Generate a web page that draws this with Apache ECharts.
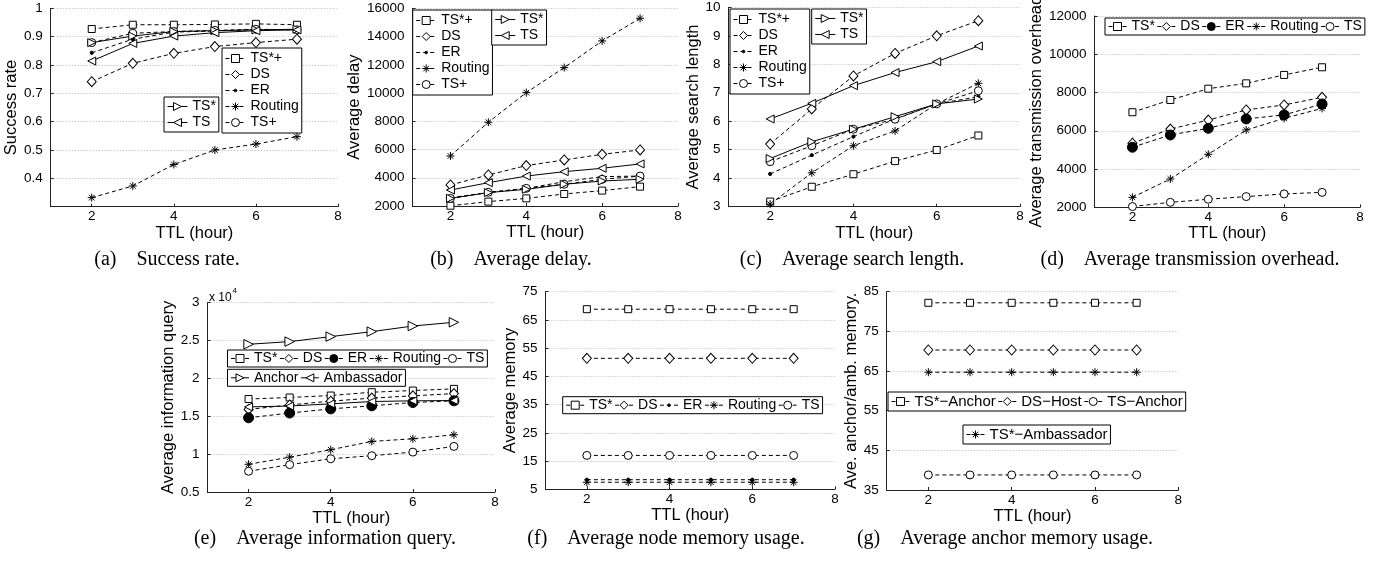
<!DOCTYPE html>
<html><head><meta charset="utf-8">
<script src="https://cdn.jsdelivr.net/npm/echarts@6/dist/echarts.min.js"></script>
<style>html,body{margin:0;padding:0;background:#fff}#c{width:1385px;height:562px}</style>
</head><body><div id="c"></div>
<script>
// ---------- data ----------
const ttl = [2, 3, 4, 5, 6, 7];
const xTickValues = [2, 4, 6, 8];

// (a) Success rate
const aTSstarPlus = [0.927, 0.942, 0.942, 0.943, 0.945, 0.942];
const aDS         = [0.741, 0.806, 0.841, 0.865, 0.879, 0.891];
const aER         = [0.843, 0.891, 0.916, 0.920, 0.925, 0.925];
const aRouting    = [0.332, 0.373, 0.449, 0.500, 0.521, 0.547];
const aTSplus     = [0.879, 0.912, 0.918, 0.922, 0.926, 0.924];
const aTSstar     = [0.879, 0.902, 0.918, 0.921, 0.924, 0.926];
const aTS         = [0.814, 0.876, 0.902, 0.914, 0.921, 0.924];

// (b) Average delay
const bTSstarPlus = [2020, 2310, 2540, 2850, 3090, 3370];
const bDS         = [3490, 4200, 4860, 5260, 5660, 5970];
const bER         = [2590, 2950, 3250, 3720, 4080, 4120];
const bRouting    = [5540, 7930, 10030, 11800, 13690, 15290];
const bTSplus     = [2540, 2970, 3250, 3540, 3890, 4120];
const bTSstar     = [2540, 2950, 3180, 3540, 3770, 3890];
const bTS         = [3130, 3650, 4120, 4430, 4670, 4980];

// (c) Average search length
const cTSstarPlus = [3.18, 3.70, 4.14, 4.60, 4.99, 5.50];
const cDS         = [5.20, 6.43, 7.59, 8.38, 9.00, 9.53];
const cER         = [4.15, 4.81, 5.46, 6.08, 6.61, 6.86];
const cRouting    = [3.09, 4.19, 5.14, 5.66, 6.61, 7.33];
const cTSplus     = [4.58, 5.14, 5.72, 6.07, 6.61, 7.07];
const cTSstar     = [4.69, 5.28, 5.72, 6.16, 6.61, 6.78];
const cTS         = [6.08, 6.63, 7.25, 7.71, 8.09, 8.64];

// (d) Average transmission overhead
const dTSstar  = [6970, 7610, 8200, 8480, 8920, 9320];
const dDS      = [5350, 6090, 6560, 7090, 7350, 7750];
const dER      = [5140, 5780, 6130, 6620, 6830, 7400];
const dRouting = [2520, 3480, 4770, 6040, 6650, 7170];
const dTS      = [2040, 2260, 2420, 2560, 2700, 2780];

// (e) Average information query
const eTSstar     = [17280, 17480, 17740, 18180, 18400, 18620];
const eDS         = [15900, 16500, 17000, 17400, 17700, 18000];
const eER         = [14800, 15430, 15980, 16380, 16820, 17040];
const eRouting    = [8660, 9600, 10580, 11680, 12030, 12560];
const eTS         = [7740, 8610, 9390, 9790, 10270, 11020];
const eAnchor     = [24510, 24860, 25520, 26180, 26920, 27410];
const eAmbassador = [16240, 16350, 16640, 16950, 17040, 17080];

// (f) Average node memory usage
const fTSstar  = [68.8, 68.8, 68.8, 68.8, 68.8, 68.8];
const fDS      = [51.4, 51.4, 51.4, 51.4, 51.4, 51.4];
const fER      = [8.4, 8.4, 8.4, 8.4, 8.4, 8.4];
const fRouting = [7.5, 7.5, 7.5, 7.5, 7.5, 7.5];
const fTS      = [17.0, 17.0, 17.0, 17.0, 17.0, 17.0];

// (g) Average anchor memory usage
const gTSstarAnchor     = [82.2, 82.2, 82.2, 82.2, 82.2, 82.2];
const gDSHost           = [70.3, 70.3, 70.3, 70.3, 70.3, 70.3];
const gTSstarAmbassador = [64.7, 64.7, 64.7, 64.7, 64.7, 64.7];
const gTSAnchor         = [38.8, 38.8, 38.8, 38.8, 38.8, 38.8];

// ---------- styling ----------
const SANS = '"Liberation Sans", Arial, sans-serif';
const SERIF = '"Liberation Serif", "Times New Roman", serif';
const AST = 'path://M5,0L5,10M0,5L10,5M1.5,1.5L8.5,8.5M1.5,8.5L8.5,1.5';
const DOT = 'path://M0,0L0,0M10,10L10,10M6.6,5A1.6,1.6,0,1,1,3.4,5A1.6,1.6,0,1,1,6.6,5Z';
const MK = {
  sq:   {symbol: 'rect', size: 7, fill: '#fff'},
  dia:  {symbol: 'diamond', size: [9, 10], fill: '#fff'},
  dot:  {symbol: DOT, size: 10, fill: '#000'},
  bdot: {symbol: 'circle', size: 10, fill: '#000'},
  circ: {symbol: 'circle', size: 8, fill: '#fff'},
  ast:  {symbol: AST, size: 8, fill: '#000'},
  rtri: {symbol: 'triangle', size: 8, rotate: -90, fill: '#fff'},
  ltri: {symbol: 'triangle', size: 8, rotate: 90, fill: '#fff'}
};

const grids = [
  {left: 50.7, top: 8.3, width: 287.3, height: 198.4},
  {left: 412.5, top: 8.3, width: 265.5, height: 197.7},
  {left: 728.5, top: 7.3, width: 291.5, height: 199.4},
  {left: 1094.5, top: 16, width: 265.5, height: 191.3},
  {left: 207.5, top: 302.7, width: 287.5, height: 189.3},
  {left: 545.5, top: 291.7, width: 289.5, height: 197.6},
  {left: 886.7, top: 291.7, width: 291.6, height: 198.3}
];

const yDefs = [
  {min: 0.3, max: 1, interval: 0.1, name: 'Success rate', gap: 27.5,
   fmt: v => Math.abs(v - 0.3) < 1e-9 ? '' : String(+v.toFixed(2))},
  {min: 2000, max: 16000, interval: 2000, name: 'Average delay', gap: 48},
  {min: 3, max: 10, interval: 1, name: 'Average search length', gap: 20},
  {min: 2000, max: 12000, interval: 2000, name: 'Average transmission overhead', gap: 45},
  {min: 5000, max: 30000, interval: 5000, name: 'Average information query', gap: 28,
   fmt: v => String(+(v / 10000).toFixed(2))},
  {min: 5, max: 75, interval: 10, name: 'Average memory', gap: 23},
  {min: 35, max: 85, interval: 10, name: 'Ave. anchor/amb. memory.', gap: 23}
];

// series spec: [panelIndex, key, label, data, marker, dashed, size]
const specs = [
  [0, 'a', 'TS*+', aTSstarPlus, 'sq', true],
  [0, 'a', 'DS', aDS, 'dia', true],
  [0, 'a', 'ER', aER, 'dot', true],
  [0, 'a', 'Routing', aRouting, 'ast', true],
  [0, 'a', 'TS+', aTSplus, 'circ', true],
  [0, 'a', 'TS*', aTSstar, 'rtri', false],
  [0, 'a', 'TS', aTS, 'ltri', false],

  [1, 'b', 'TS*+', bTSstarPlus, 'sq', true],
  [1, 'b', 'DS', bDS, 'dia', true],
  [1, 'b', 'ER', bER, 'dot', true],
  [1, 'b', 'Routing', bRouting, 'ast', true],
  [1, 'b', 'TS+', bTSplus, 'circ', true],
  [1, 'b', 'TS*', bTSstar, 'rtri', false],
  [1, 'b', 'TS', bTS, 'ltri', false],

  [2, 'c', 'TS*+', cTSstarPlus, 'sq', true],
  [2, 'c', 'DS', cDS, 'dia', true],
  [2, 'c', 'ER', cER, 'dot', true],
  [2, 'c', 'Routing', cRouting, 'ast', true],
  [2, 'c', 'TS+', cTSplus, 'circ', true],
  [2, 'c', 'TS*', cTSstar, 'rtri', false],
  [2, 'c', 'TS', cTS, 'ltri', false],

  [3, 'd', 'TS*', dTSstar, 'sq', true],
  [3, 'd', 'DS', dDS, 'dia', true],
  [3, 'd', 'ER', dER, 'bdot', true],
  [3, 'd', 'Routing', dRouting, 'ast', true],
  [3, 'd', 'TS', dTS, 'circ', true],

  [4, 'e', 'TS*', eTSstar, 'sq', true],
  [4, 'e', 'DS', eDS, 'dia', true],
  [4, 'e', 'ER', eER, 'bdot', true],
  [4, 'e', 'Routing', eRouting, 'ast', true],
  [4, 'e', 'TS', eTS, 'circ', true],
  [4, 'e', 'Anchor', eAnchor, 'rtri', false, 9.5],
  [4, 'e', 'Ambassador', eAmbassador, 'ltri', false],

  [5, 'f', 'TS*', fTSstar, 'sq', true],
  [5, 'f', 'DS', fDS, 'dia', true],
  [5, 'f', 'ER', fER, 'dot', true],
  [5, 'f', 'Routing', fRouting, 'ast', true],
  [5, 'f', 'TS', fTS, 'circ', true],

  [6, 'g', 'TS*\u2212Anchor', gTSstarAnchor, 'sq', true],
  [6, 'g', 'DS\u2212Host', gDSHost, 'dia', true],
  [6, 'g', 'TS\u2212Anchor', gTSAnchor, 'circ', true],
  [6, 'g', 'TS*\u2212Ambassador', gTSstarAmbassador, 'ast', true]
];

const series = specs.map(([pi, key, label, data, mkName, dashed, size]) => {
  const m = MK[mkName];
  return {
    type: 'line', name: key + '|' + label,
    xAxisIndex: pi, yAxisIndex: pi,
    data: ttl.map((t, i) => [t, data[i]]),
    symbol: m.symbol, symbolSize: size || m.size, symbolRotate: m.rotate || 0,
    showSymbol: true,
    lineStyle: {color: '#000', width: 1, type: dashed ? [4, 3] : 'solid'},
    itemStyle: {color: m.fill, borderColor: '#000', borderWidth: 1},
    emphasis: {disabled: true}, silent: true
  };
});

const xAxes = grids.map((g, i) => ({
  type: 'value', gridIndex: i, min: 1, max: 8, interval: 1,
  name: 'TTL (hour)', nameLocation: 'middle', nameGap: 13,
  nameTextStyle: {fontFamily: SANS, fontSize: 16.5, color: '#000'},
  axisLine: {show: true, onZero: false, lineStyle: {color: '#222', width: 1}},
  axisTick: {show: true, inside: true, length: 3, customValues: xTickValues, lineStyle: {color: '#222'}},
  axisLabel: {show: true, customValues: xTickValues, margin: 3, fontFamily: SANS, fontSize: 13.5, color: '#000'},
  splitLine: {show: false}
}));

const yAxes = yDefs.map((d, i) => ({
  type: 'value', gridIndex: i, min: d.min, max: d.max, interval: d.interval,
  name: d.name, nameLocation: 'middle', nameGap: d.gap,
  nameTextStyle: {fontFamily: SANS, fontSize: 16.5, color: '#000'},
  axisLine: {show: true, onZero: false, lineStyle: {color: '#222', width: 1}},
  axisTick: {show: true, inside: true, length: 3, lineStyle: {color: '#222'}},
  axisLabel: {show: true, margin: 8, fontFamily: SANS, fontSize: 13.5, color: '#000',
              formatter: d.fmt || (v => String(v))},
  splitLine: {show: true, lineStyle: {color: '#b5b5b5', width: 1, type: [1, 2]}}
}));

function legend(key, labels, left, top, orient, opts) {
  opts = opts || {};
  return {
    show: true, orient: orient, left: left, top: top,
    data: labels.map(l => key + '|' + l),
    formatter: n => n.split('|')[1],
    selectedMode: false,
    backgroundColor: '#fff', borderColor: '#000', borderWidth: 1, borderRadius: 0,
    padding: opts.padding || [3, 3],
    itemGap: opts.itemGap != null ? opts.itemGap : 1,
    itemWidth: opts.itemWidth || 20, itemHeight: 10,
    itemStyle: {borderWidth: 1},
    lineStyle: {width: 1},
    textStyle: {fontFamily: SANS, fontSize: opts.fontSize || 14, color: '#000', lineHeight: 15, padding: 0},
    z: 10
  };
}

const legends = [
  legend('a', ['TS*+', 'DS', 'ER', 'Routing', 'TS+'], 222, 48, 'vertical'),
  legend('a', ['TS*', 'TS'], 164, 97, 'vertical', {padding: [2, 3]}),
  legend('b', ['TS*+', 'DS', 'ER', 'Routing', 'TS+'], 412.7, 10, 'vertical'),
  legend('b', ['TS*', 'TS'], 491.7, 10, 'vertical', {padding: [2, 3]}),
  legend('c', ['TS*+', 'DS', 'ER', 'Routing', 'TS+'], 730, 9, 'vertical'),
  legend('c', ['TS*', 'TS'], 811.7, 9, 'vertical', {padding: [2, 3]}),
  legend('d', ['TS*', 'DS', 'ER', 'Routing', 'TS'], 1105, 18, 'horizontal', {padding: [1, 3], itemWidth: 18, itemGap: 2}),
  legend('e', ['TS*', 'DS', 'ER', 'Routing', 'TS'], 227.5, 350, 'horizontal', {padding: [1, 3], itemWidth: 18, itemGap: 2}),
  legend('e', ['Anchor', 'Ambassador'], 227.5, 369.3, 'horizontal', {padding: [1, 3], itemWidth: 18, itemGap: 2}),
  legend('f', ['TS*', 'DS', 'ER', 'Routing', 'TS'], 562.7, 396.7, 'horizontal', {padding: [1, 3], itemWidth: 18, itemGap: 2}),
  legend('g', ['TS*\u2212Anchor', 'DS\u2212Host', 'TS\u2212Anchor'], 888, 392, 'horizontal', {padding: [2, 3], itemWidth: 18, itemGap: 2, fontSize: 15}),
  legend('g', ['TS*\u2212Ambassador'], 963, 425, 'horizontal', {padding: [2, 3], itemWidth: 18, itemGap: 2, fontSize: 15})
];

const captions = [
  ['(a)\u2003Success rate.', 167, 260],
  ['(b)\u2003Average delay.', 511, 260],
  ['(c)\u2003Average search length.', 852, 260],
  ['(d)\u2003Average transmission overhead.', 1190, 260],
  ['(e)\u2003Average information query.', 325, 539],
  ['(f)\u2003Average node memory usage.', 666, 539],
  ['(g)\u2003Average anchor memory usage.', 1005, 539]
];

const graphics = captions.map(([t, x, y]) => ({
  type: 'text', x: x, y: y, silent: true,
  style: {text: t, font: '20px ' + SERIF, fill: '#000', align: 'center', verticalAlign: 'middle'}
}));
graphics.push({type: 'text', x: 209, y: 297.5, silent: true,
  style: {text: 'x 10', font: '12px ' + SANS, fill: '#000', align: 'left', verticalAlign: 'middle'}});
graphics.push({type: 'text', x: 232.5, y: 291, silent: true,
  style: {text: '4', font: '8px ' + SANS, fill: '#000', align: 'left', verticalAlign: 'middle'}});

const chart = echarts.init(document.getElementById('c'), null, {renderer: 'canvas'});
chart.setOption({
  animation: false,
  backgroundColor: '#fff',
  grid: grids.map(g => Object.assign({containLabel: false, outerBoundsMode: 'none'}, g)),
  xAxis: xAxes,
  yAxis: yAxes,
  legend: legends,
  series: series,
  graphic: graphics
});
</script>
</body></html>
